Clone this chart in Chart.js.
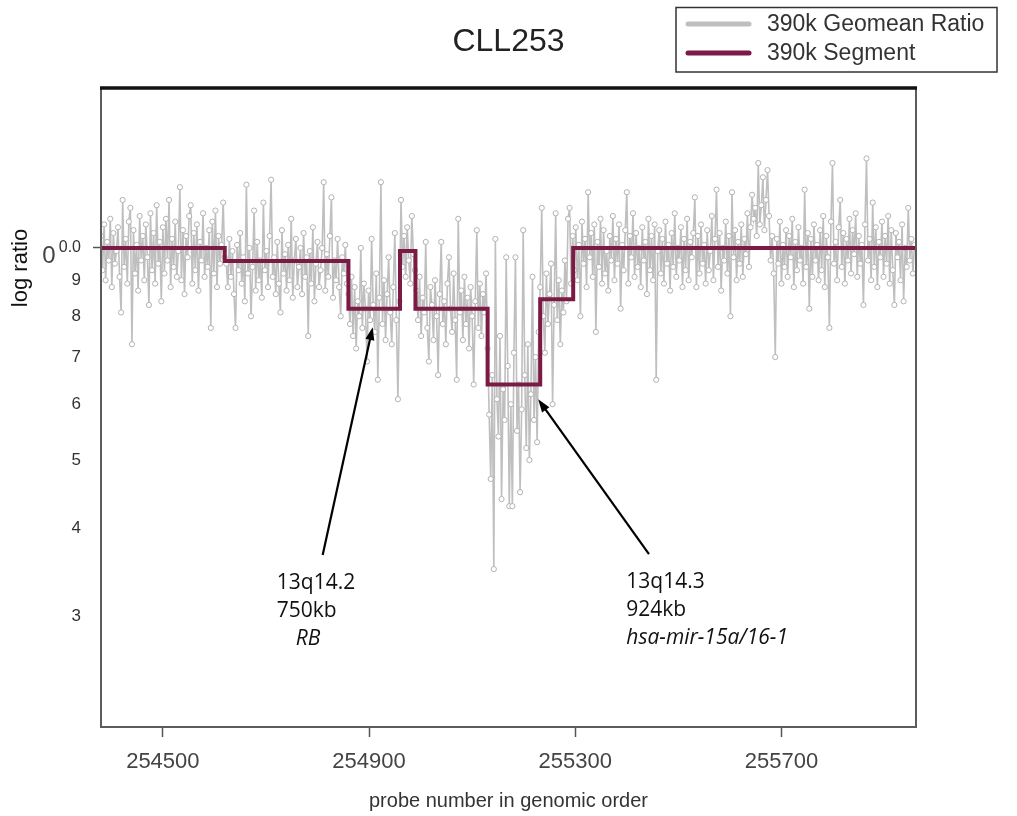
<!DOCTYPE html>
<html>
<head>
<meta charset="utf-8">
<title>CLL253</title>
<script src="https://cdn.jsdelivr.net/npm/chart.js@4.4.0/dist/chart.umd.min.js"></script>
<style>
  html, body { margin: 0; padding: 0; background: #fff; }
</style>
</head>
<body>
<canvas id="chartId" width="1017" height="816"></canvas>
<script>
// probe numbering (genomic order), one reading every probeStep probes
const probeStart = 254380;
const probeStep = 3;

// geomean ratio readings x100, grouped by the segment they fall in
const ratioA = [104, 93, 108, 90, 102, 96, 110, 88, 105, 95,
  99, 107, 91, 81, 117, 94, 103, 89, 109, 114,
  73, 106, 92, 101, 87, 111, 96, 104, 90, 108,
  97, 83, 112, 93, 105, 89, 115, 95, 102, 84,
  107, 92, 110, 96, 117, 88, 103, 94, 109, 91,
  99, 122, 90, 106, 86, 104, 97, 111, 115, 89,
  105, 93, 108, 87, 102, 96, 112, 91, 100, 94,
  106, 77, 109, 92, 113, 88, 104, 95, 101, 116,
  97];
const ratioB = [95, 88, 103, 91, 99, 86, 77, 101, 93, 105,
  89, 97, 84, 123, 92, 100, 80, 94, 113, 87,
  102, 90, 96, 85, 116, 93, 99, 88, 104, 125,
  91, 97, 86, 102, 89, 81, 106, 92, 98, 87,
  101, 90, 110, 85, 96, 103, 88, 94, 100, 86,
  105, 91, 97, 75, 99, 89, 107, 84, 95, 102,
  88, 93, 100, 124, 87, 98, 91, 104, 118, 85,
  96, 90, 103, 88, 80, 97, 92, 101, 89];
const ratioC = [86, 78, 91, 75, 88, 72, 84, 80, 100, 77,
  89, 82, 69, 87, 79, 103, 83, 76, 92, 65,
  85, 124, 78, 90, 74, 86, 97, 81, 73, 88,
  105, 79, 61, 84];
const ratioD = [117, 94, 104, 91, 107, 96, 89, 111, 98, 93];
const ratioE = [87, 79, 91, 75, 85, 81, 102, 77, 69, 88,
  83, 74, 90, 80, 66, 86, 102, 78, 84, 73,
  89, 97, 82, 76, 92, 79, 65, 110, 81, 87,
  74, 91, 78, 85, 72, 88, 80, 64, 84, 106,
  77, 89, 75, 86, 81, 92];
const ratioF = [72, 58, 47, 66, 35, 103, 61, 54, 75, 44,
  63, 57, 97, 68, 43, 60, 43, 71, 97, 55,
  64, 45, 59, 106, 66, 52, 73, 50, 62, 91,
  57, 70, 53, 76];
const ratioG = [88, 114, 80, 71, 92, 78, 86, 95, 60, 83,
  112, 79, 90, 73, 87, 81, 96, 84, 110, 114,
  89];
const ratioH = [104, 93, 107, 90, 101, 80, 109, 95, 103, 88,
  120, 97, 105, 91, 108, 76, 102, 94, 110, 89,
  106, 92, 99, 87, 104, 96, 111, 90, 103, 95,
  108, 82, 101, 93, 106, 120, 89, 104, 97, 112,
  91, 105, 94, 100, 88, 107, 96, 102, 86, 110,
  93, 104, 90, 108, 65, 99, 106, 92, 103, 89,
  109, 95, 101, 87, 105, 94, 112, 91, 100, 96,
  107, 88, 103, 93, 110, 90, 102, 97, 105, 118,
  88, 104, 92, 108, 95, 101, 89, 106, 93, 99,
  111, 90, 103, 121, 94, 105, 87, 100, 96, 109,
  92, 104, 80, 120, 97, 106, 90, 102, 95, 108,
  91, 103, 98, 112, 94, 107, 119, 110, 114, 104,
  132, 108, 115, 126, 106, 117, 129, 111, 96, 104,
  92, 70, 103, 95, 109, 89, 101, 94, 106, 91,
  104, 97, 110, 88, 102, 93, 107, 96, 100, 89,
  121, 94, 105, 82, 103, 91, 108, 96, 101, 90,
  106, 93, 111, 88, 104, 97, 77, 109, 132, 95,
  102, 90, 107, 117, 94, 105, 89, 103, 96, 110,
  92, 106, 98, 112, 91, 104, 95, 101, 83, 108,
  134, 96, 103, 90, 116, 94, 107, 88, 102, 97,
  109, 91, 104, 95, 111, 89, 106, 93, 83, 105,
  97, 102, 90, 108, 84, 100, 94, 114, 96, 103,
  92, 101];

// segmentation calls
const segStart = [254380, 254620, 254860, 254960, 254990, 255130, 255232, 255296];
const segEnd = [254620, 254860, 254960, 254990, 255130, 255232, 255296, 255961];
const segRatio = [1.0, 0.958, 0.82, 0.99, 0.82, 0.64, 0.846, 1.0];

// axes
const xMin = 254380, xMax = 255961;
const xTicks = [254500, 254900, 255300, 255700];
const yMin = 0.2089, yMax = 1.687;
const yTicks = [1.0, 0.9, 0.8, 0.7, 0.6, 0.5, 0.4, 0.3];
const yTickLabels = ["0.0", "9", "8", "7", "6", "5", "4", "3"];

// arrows pointing at the two deleted regions (data units)
const notes = [
  { tail: [254810, 0.3665], tip: [254907, 0.772], textX: 254721,
    lines: ["13q14.2", "750kb", "RB"], indent: [0, 0, 19] },
  { tail: [255443, 0.3677], tip: [255228, 0.610], textX: 255399,
    lines: ["13q14.3", "924kb", "hsa-mir-15a/16-1"], indent: [0, 0, 0] }
];

const GREY = "#bfbfbf";
const MAROON = "#7b1a44";

var geomean = [].concat(ratioA, ratioB, ratioC, ratioD, ratioE, ratioF, ratioG, ratioH);
var ratioPoints = geomean.map(function (v, i) {
  return { x: probeStart + i * probeStep, y: v / 100 };
});
var segPoints = [];
for (let i = 0; i < segStart.length; i++) {
  segPoints.push({ x: segStart[i], y: segRatio[i] });
  segPoints.push({ x: segEnd[i], y: segRatio[i] });
}

function arrow(ctx, x1, y1, x2, y2) {
  var ang = Math.atan2(y2 - y1, x2 - x1);
  var hl = 13, hw = 4.5;
  ctx.beginPath();
  ctx.moveTo(x1, y1);
  ctx.lineTo(x2 - Math.cos(ang) * hl * 0.8, y2 - Math.sin(ang) * hl * 0.8);
  ctx.stroke();
  ctx.beginPath();
  ctx.moveTo(x2, y2);
  ctx.lineTo(x2 - Math.cos(ang) * hl + Math.sin(ang) * hw, y2 - Math.sin(ang) * hl - Math.cos(ang) * hw);
  ctx.lineTo(x2 - Math.cos(ang) * hl - Math.sin(ang) * hw, y2 - Math.sin(ang) * hl + Math.cos(ang) * hw);
  ctx.closePath();
  ctx.fill();
}

// frame, title, legend, axis titles and notes
const decor = {
  id: "decor",
  beforeDraw: function (chart) {
    var ctx = chart.ctx;
    ctx.save();
    ctx.fillStyle = "#fff";
    ctx.fillRect(0, 0, chart.width, chart.height);
    ctx.restore();
  },
  afterDraw: function (chart) {
    var ctx = chart.ctx, a = chart.chartArea;
    var xs = chart.scales.x, ys = chart.scales.y;
    ctx.save();

    // plot frame: grey sides, heavy black top
    ctx.strokeStyle = "#5c5c5c";
    ctx.lineWidth = 2;
    ctx.beginPath();
    ctx.moveTo(a.left, a.top);
    ctx.lineTo(a.left, a.bottom);
    ctx.lineTo(a.right, a.bottom);
    ctx.lineTo(a.right, a.top);
    ctx.stroke();
    ctx.strokeStyle = "#111";
    ctx.lineWidth = 3.5;
    ctx.beginPath();
    ctx.moveTo(a.left - 1, a.top);
    ctx.lineTo(a.right + 1, a.top);
    ctx.stroke();

    // title
    ctx.fillStyle = "#222";
    ctx.font = "32px 'Liberation Sans', Arial, sans-serif";
    ctx.textAlign = "center";
    ctx.textBaseline = "middle";
    ctx.fillText("CLL253", (a.left + a.right) / 2, 42);

    // axis titles
    ctx.fillStyle = "#333";
    ctx.font = "20px 'Liberation Sans', Arial, sans-serif";
    ctx.fillText("probe number in genomic order", (a.left + a.right) / 2, 801);
    ctx.save();
    ctx.translate(21, 268);
    ctx.rotate(-Math.PI / 2);
    ctx.fillStyle = "#111";
    ctx.font = "22px 'Liberation Sans', Arial, sans-serif";
    ctx.fillText("log ratio", 0, 0);
    ctx.restore();
    ctx.fillStyle = "#444";
    ctx.font = "24px 'Liberation Sans', Arial, sans-serif";
    ctx.fillText("0", 49, ys.getPixelForValue(1.0) + 8);

    // legend
    ctx.strokeStyle = "#333";
    ctx.lineWidth = 1.5;
    ctx.strokeRect(676, 7.5, 321, 64.5);
    ctx.lineCap = "round";
    ctx.lineWidth = 5;
    ctx.strokeStyle = GREY;
    ctx.beginPath(); ctx.moveTo(688, 24); ctx.lineTo(749, 24); ctx.stroke();
    ctx.strokeStyle = MAROON;
    ctx.beginPath(); ctx.moveTo(688, 53); ctx.lineTo(749, 53); ctx.stroke();
    ctx.lineCap = "butt";
    ctx.fillStyle = "#333";
    ctx.font = "23px 'Liberation Sans', Arial, sans-serif";
    ctx.textAlign = "left";
    ctx.fillText("390k Geomean Ratio", 767, 25);
    ctx.fillText("390k Segment", 767, 54);

    // arrows and their captions
    ctx.strokeStyle = "#000";
    ctx.fillStyle = "#000";
    ctx.lineWidth = 2.2;
    notes.forEach(function (n) {
      var x1 = xs.getPixelForValue(n.tail[0]), y1 = ys.getPixelForValue(n.tail[1]);
      var x2 = xs.getPixelForValue(n.tip[0]), y2 = ys.getPixelForValue(n.tip[1]);
      arrow(ctx, x1, y1, x2, y2);
      var tx = xs.getPixelForValue(n.textX);
      ctx.fillStyle = "#111";
      n.lines.forEach(function (line, k) {
        ctx.font = (k === 2 ? "italic " : "") + "21px 'Open Sans', sans-serif";
        ctx.fillText(line, tx + n.indent[k], y1 + 28 + k * 28);
      });
      ctx.fillStyle = "#000";
    });
    ctx.restore();
  }
};

const chrt = document.getElementById("chartId").getContext("2d");
const chartId = new Chart(chrt, {
  type: "line",
  data: {
    datasets: [
      {
        label: "390k Segment",
        data: segPoints,
        borderColor: MAROON,
        borderWidth: 4,
        pointRadius: 0,
        order: 0,
      },
      {
        label: "390k Geomean Ratio",
        data: ratioPoints,
        borderColor: GREY,
        borderWidth: 1.6,
        pointRadius: 2.6,
        pointBorderWidth: 1,
        pointBorderColor: "#b3b3b3",
        pointBackgroundColor: "#fff",
        order: 1,
      },
    ],
  },
  options: {
    responsive: false,
    animation: false,
    layout: { padding: { top: 88, right: 101, bottom: 0, left: 0 } },
    plugins: {
      legend: { display: false },
      title: { display: false },
      tooltip: { enabled: false },
    },
    scales: {
      x: {
        type: "linear",
        min: xMin,
        max: xMax,
        afterBuildTicks: function (s) { s.ticks = xTicks.map(function (v) { return { value: v }; }); },
        afterFit: function (s) { s.height = 89; },
        border: { display: false },
        grid: { drawOnChartArea: false, drawTicks: true, tickLength: 10, tickColor: "#555", tickWidth: 1.5 },
        ticks: {
          padding: 12,
          color: "#444",
          font: { family: "'Liberation Sans', Arial, sans-serif", size: 22 },
          maxRotation: 0,
          callback: function (v) { return String(v); },
        },
      },
      y: {
        type: "logarithmic",
        min: yMin,
        max: yMax,
        afterBuildTicks: function (s) { s.ticks = yTicks.map(function (v) { return { value: v }; }); },
        afterFit: function (s) { s.width = 101; },
        border: { display: false },
        grid: {
          drawOnChartArea: false,
          drawTicks: true,
          tickLength: 8,
          tickWidth: 1.5,
          tickColor: function (c) { return c.index === 0 ? "#555" : "rgba(0,0,0,0)"; },
        },
        ticks: {
          padding: 12,
          color: "#333",
          font: function (c) {
            return { family: "'Liberation Sans', Arial, sans-serif", size: c.index === 0 ? 16 : 17 };
          },
          callback: function (v, i) { return yTickLabels[i]; },
        },
      },
    },
  },
  plugins: [decor],
});
</script>
</body>
</html>
